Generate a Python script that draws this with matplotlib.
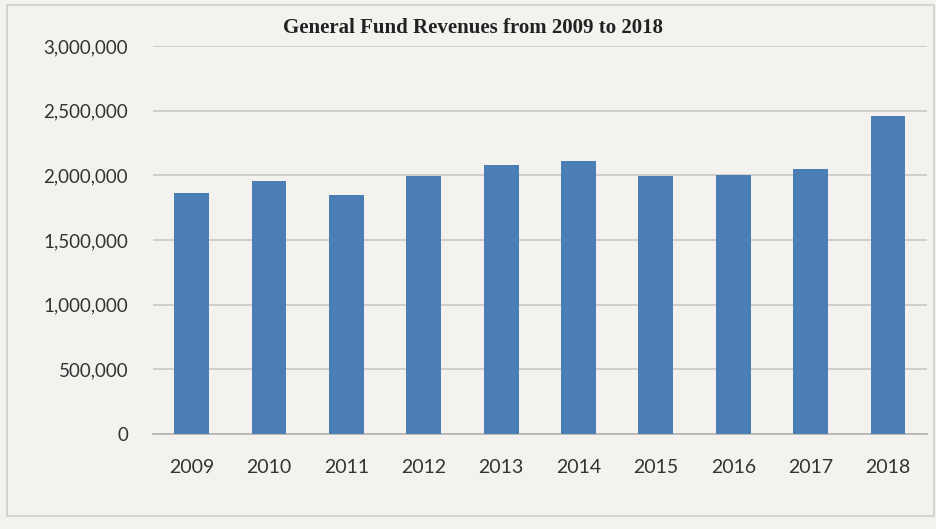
import matplotlib
matplotlib.use("Agg")
import matplotlib.pyplot as plt
from matplotlib.ticker import FuncFormatter
from matplotlib.patches import Rectangle

years = ["2009", "2010", "2011", "2012", "2013", "2014", "2015", "2016", "2017", "2018"]
revenues = [1866000, 1953000, 1848000, 1995000, 2083000, 2111000, 1992000, 2005000, 2052000, 2459000]
y_ticks = [0, 500000, 1000000, 1500000, 2000000, 2500000, 3000000]

bg = "#f4f2ef"
bar_color = "#4a7eb4"

fig = plt.figure(figsize=(9.36, 5.29), dpi=100, facecolor=bg)
ax = fig.add_axes([0.1635, 0.1796, 0.8265, 0.7334], facecolor=bg)

ax.bar(years, revenues, width=0.45, color=bar_color, zorder=3)

ax.set_ylim(0, 3000000)
ax.set_xlim(-0.5, len(years) - 0.5)
ax.set_yticks(y_ticks)
ax.yaxis.set_major_formatter(FuncFormatter(lambda v, p: f"{int(v):,}"))
ax.grid(axis="y", color="#c9c7c4", linewidth=1.2, zorder=0)

for side in ["top", "right", "left"]:
    ax.spines[side].set_visible(False)
ax.spines["bottom"].set_color("#b5b3b0")
ax.spines["bottom"].set_linewidth(1.2)

ax.tick_params(axis="both", length=0, labelcolor="#333333")
ax.tick_params(axis="y", pad=18, labelsize=13.5)
ax.tick_params(axis="x", pad=18, labelsize=14)
for lbl in ax.get_xticklabels() + ax.get_yticklabels():
    lbl.set_family("Lato")

fig.text(0.505, 0.947, "General Fund Revenues from 2009 to 2018", ha="center", va="center",
         fontsize=15, fontweight="bold", family="Liberation Serif", color="#222222")

# outer chart frame
fig.patches.append(Rectangle((0.008, 0.025), 0.99, 0.965, transform=fig.transFigure,
                             fill=False, edgecolor="#cfcdca", linewidth=1.2))

fig.savefig("out.png", dpi=100, facecolor=bg)
